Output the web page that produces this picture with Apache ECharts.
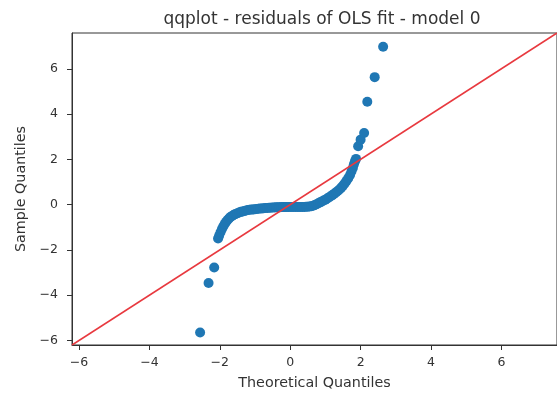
<!DOCTYPE html>
<html>
<head>
<meta charset="utf-8">
<script src="https://cdn.jsdelivr.net/npm/echarts@6/dist/echarts.min.js"></script>
<style>
  html, body { margin: 0; padding: 0; background: #fff; }
  #chart { width: 557px; height: 395px; }
</style>
</head>
<body>
<div id="chart"></div>
<script>
// Q-Q plot of OLS residuals: theoretical normal quantiles vs. sorted sample residuals
const theoreticalQuantiles = [
  -2.56, -2.32, -2.16,
  -2.05, -2.02, -1.98, -1.94, -1.90, -1.86, -1.82, -1.78, -1.74, -1.70,
  -1.65, -1.60, -1.55, -1.50, -1.45, -1.40, -1.35, -1.30, -1.25, -1.20,
  -1.15, -1.10, -1.05, -1.00, -0.95, -0.90, -0.85, -0.80, -0.75, -0.70,
  -0.65, -0.60, -0.55, -0.50, -0.45, -0.40, -0.35, -0.30, -0.25, -0.20,
  -0.15, -0.10, -0.05, 0.00, 0.05, 0.10, 0.15, 0.20, 0.25, 0.30,
  0.35, 0.40, 0.45, 0.50, 0.55, 0.60, 0.65, 0.70, 0.75, 0.80,
  0.85, 0.90, 0.95, 1.00, 1.05, 1.10, 1.15, 1.20, 1.25, 1.30,
  1.35, 1.40, 1.45, 1.50, 1.55, 1.60, 1.65, 1.70, 1.74, 1.78,
  1.81, 1.84, 1.87,
  1.93, 2.00, 2.10, 2.19, 2.40, 2.64
];
const sampleQuantiles = [
  -5.65, -3.46, -2.78,
  -1.50, -1.38, -1.22, -1.08, -0.96, -0.85, -0.76, -0.68, -0.61, -0.55,
  -0.50, -0.45, -0.41, -0.38, -0.35, -0.32, -0.30, -0.28, -0.26, -0.24,
  -0.23, -0.22, -0.21, -0.20, -0.19, -0.18, -0.17, -0.17, -0.16, -0.15,
  -0.15, -0.14, -0.14, -0.13, -0.13, -0.12, -0.12, -0.12, -0.11, -0.11,
  -0.11, -0.11, -0.10, -0.10, -0.10, -0.10, -0.10, -0.10, -0.10, -0.10,
  -0.10, -0.10, -0.09, -0.09, -0.08, -0.07, -0.05, -0.02, 0.02, 0.06,
  0.10, 0.14, 0.18, 0.22, 0.27, 0.32, 0.37, 0.42, 0.48, 0.54,
  0.60, 0.67, 0.75, 0.84, 0.94, 1.05, 1.17, 1.31, 1.46, 1.62,
  1.78, 1.92, 2.02,
  2.58, 2.87, 3.16, 4.54, 5.63, 6.97
];
// Shared limits for both axes; the 45-degree line runs corner to corner
const axisLimits = [-6.2, 7.58];
const tickValues = [-6, -4, -2, 0, 2, 4, 6];

const points = theoreticalQuantiles.map((x, i) => [x, sampleQuantiles[i]]);
const minusSign = v => String(v).replace('-', '\u2212');
const font = 'DejaVu Sans';
const textColor = '#333333';

const chart = echarts.init(document.getElementById('chart'), null, { renderer: 'canvas' });
chart.setOption({
  animation: false,
  backgroundColor: '#ffffff',
  textStyle: { fontFamily: font },
  title: {
    text: 'qqplot - residuals of OLS fit - model 0',
    left: 317,
    top: 6,
    textAlign: 'center',
    textStyle: { fontFamily: font, fontSize: 17, fontWeight: 'normal', color: textColor }
  },
  grid: {
    left: 72, top: 33, right: -5, bottom: 47,
    show: true, borderColor: '#333', borderWidth: 1, backgroundColor: 'transparent'
  },
  xAxis: {
    type: 'value',
    min: axisLimits[0], max: axisLimits[1],
    name: 'Theoretical Quantiles',
    nameLocation: 'middle',
    nameGap: 31,
    nameTextStyle: { fontFamily: font, fontSize: 14.3, color: textColor },
    splitLine: { show: false },
    axisLine: { show: true, onZero: false, lineStyle: { color: '#333', width: 1 } },
    axisTick: { show: true, length: 5, customValues: tickValues, lineStyle: { color: '#333' } },
    axisLabel: { customValues: tickValues, margin: 11, fontSize: 12.5, color: textColor, formatter: minusSign }
  },
  yAxis: {
    type: 'value',
    min: axisLimits[0], max: axisLimits[1],
    name: 'Sample Quantiles',
    nameLocation: 'middle',
    nameGap: 39,
    nameTextStyle: { fontFamily: font, fontSize: 14.3, color: textColor },
    splitLine: { show: false },
    axisLine: { show: true, onZero: false, lineStyle: { color: '#333', width: 1 } },
    axisTick: { show: true, length: 5, customValues: tickValues, lineStyle: { color: '#333' } },
    axisLabel: { customValues: tickValues, margin: 14, fontSize: 12.5, color: textColor, formatter: minusSign }
  },
  series: [
    {
      type: 'scatter',
      data: points,
      symbol: 'circle',
      symbolSize: 10,
      itemStyle: { color: '#1f77b4', opacity: 1 },
      z: 2
    },
    {
      type: 'line',
      data: [[axisLimits[0], axisLimits[0]], [axisLimits[1], axisLimits[1]]],
      showSymbol: false,
      symbol: 'none',
      lineStyle: { color: '#e8393f', width: 1.5 },
      z: 3
    }
  ]
});
</script>
</body>
</html>
